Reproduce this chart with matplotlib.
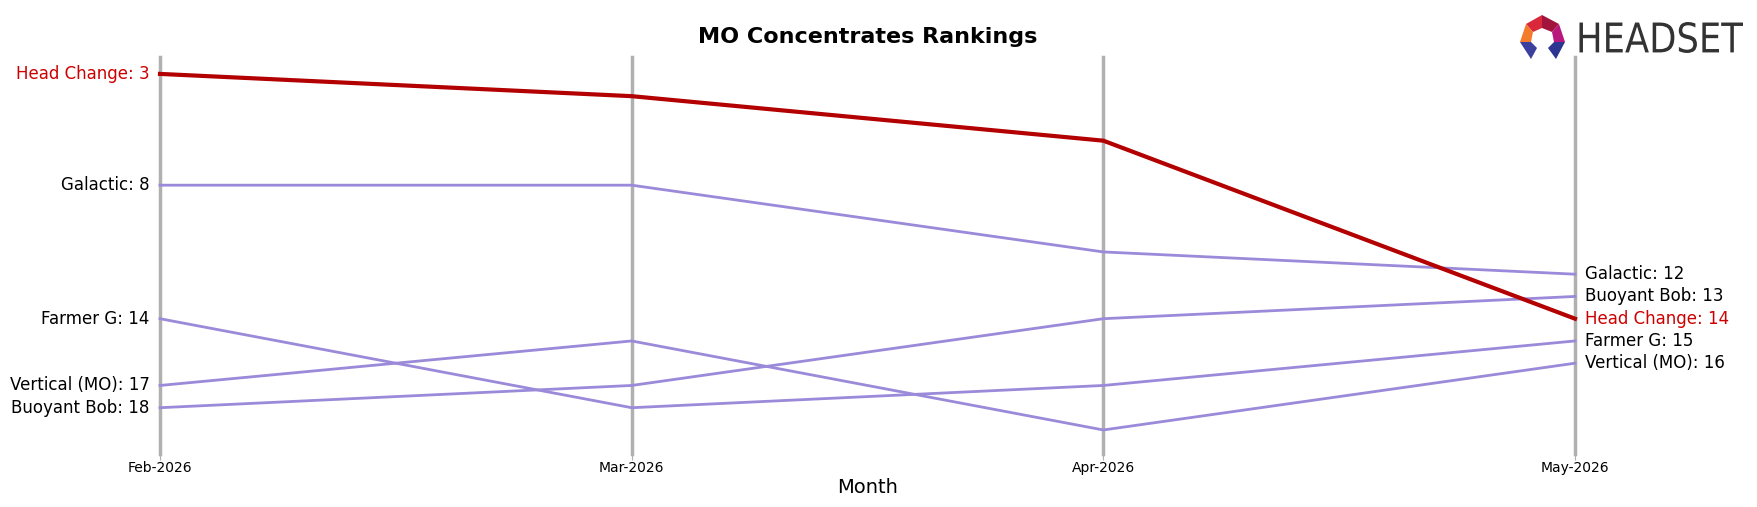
# -*- coding: utf-8 -*-

# MO Concentrates rankings (bump chart)

import numpy as np
import matplotlib.pyplot as plt
from matplotlib.patches import Polygon, PathPatch
from matplotlib.textpath import TextPath
from matplotlib.path import Path

# Data
meses = ['Feb-2026', 'Mar-2026', 'Apr-2026', 'May-2026']
marcas = ['Head Change', 'Galactic', 'Farmer G', 'Vertical (MO)', 'Buoyant Bob']
head_change = [3, 4, 6, 14]
galactic = [8, 8, 11, 12]
farmer_g = [14, 18, 17, 15]
vertical_mo = [17, 15, 19, 16]
buoyant_bob = [18, 17, 14, 13]
rankings = [head_change, galactic, farmer_g, vertical_mo, buoyant_bob]
destacada = 'Head Change'

ROJO = '#b30000'
VIOLETA = '#9a8ad9'
W, H = 1758, 507

fig = plt.figure(figsize=(17.58, 5.07), dpi=100)
ax = fig.add_axes([160 / W, 1 - 454 / H, (1575 - 160) / W, (454 - 57) / H])

x = np.arange(len(meses))
for xi in x:
    ax.axvline(xi, color='#b0b0b0', lw=2.5, zorder=0, clip_on=False)

for marca, rank in zip(marcas, rankings):
    if marca == destacada:
        ax.plot(x, rank, color=ROJO, lw=3, zorder=3, clip_on=False)
    else:
        ax.plot(x, rank, color=VIOLETA, lw=2, zorder=2, clip_on=False)

# Etiquetas a izquierda y derecha
for marca, rank in zip(marcas, rankings):
    col = '#cc0000' if marca == destacada else 'black'
    ax.text(x[0] - 0.022, rank[0], f'{marca}: {rank[0]}', ha='right', va='center',
            fontsize=12, color=col)
    ax.text(x[-1] + 0.022, rank[-1], f'{marca}: {rank[-1]}', ha='left', va='center',
            fontsize=12, color=col)

ax.set_xlim(0, 3)
ax.set_ylim(20.08, 2.24)
ax.set_xticks(x)
ax.set_xticklabels(meses, fontsize=10)
ax.set_yticks([])
ax.tick_params(axis='x', length=4, color='#b0b0b0', pad=1)
for s in ax.spines.values():
    s.set_visible(False)
ax.set_xlabel('Month', fontsize=14, labelpad=2)
ax.set_title('MO Concentrates Rankings', fontsize=16, fontweight='bold', pad=10)

# Logo HEADSET
def pix(pts):
    return [(px / W, 1 - py / H) for px, py in pts]

piezas = [
    ([(1526, 24), (1542, 15), (1542, 28), (1533, 32)], '#d8283a'),
    ([(1542, 15), (1559, 24), (1552, 32), (1542, 28)], '#a3143c'),
    ([(1526, 24), (1533, 32), (1531, 42), (1520, 42)], '#f47b2a'),
    ([(1559, 24), (1565, 42), (1554, 42), (1552, 32)], '#b8177e'),
    ([(1520, 42), (1531, 42), (1537, 48), (1531, 59)], '#3b3f9e'),
    ([(1554, 42), (1565, 42), (1556, 59), (1548, 48)], '#2c3590'),
]
for pts, c in piezas:
    fig.add_artist(Polygon(pix(pts), closed=True, facecolor=c, edgecolor='none',
                           transform=fig.transFigure))

# texto del logo, comprimido para que entre en la caja del original
tp = TextPath((0, 0), 'HEADSET', size=1, prop={'family': 'DejaVu Sans'})
v = tp.vertices.copy()
x0, x1 = v[:, 0].min(), v[:, 0].max()
y0, y1 = v[:, 1].min(), v[:, 1].max()
px = 1576 + (v[:, 0] - x0) / (x1 - x0) * (1743 - 1576)
py = 53 - (v[:, 1] - y0) / (y1 - y0) * (53 - 22)
logo = Path(np.column_stack([px / W, 1 - py / H]), tp.codes)
fig.add_artist(PathPatch(logo, facecolor='#333333', edgecolor='none',
                         transform=fig.transFigure))

fig.savefig('out.png', dpi=100)
